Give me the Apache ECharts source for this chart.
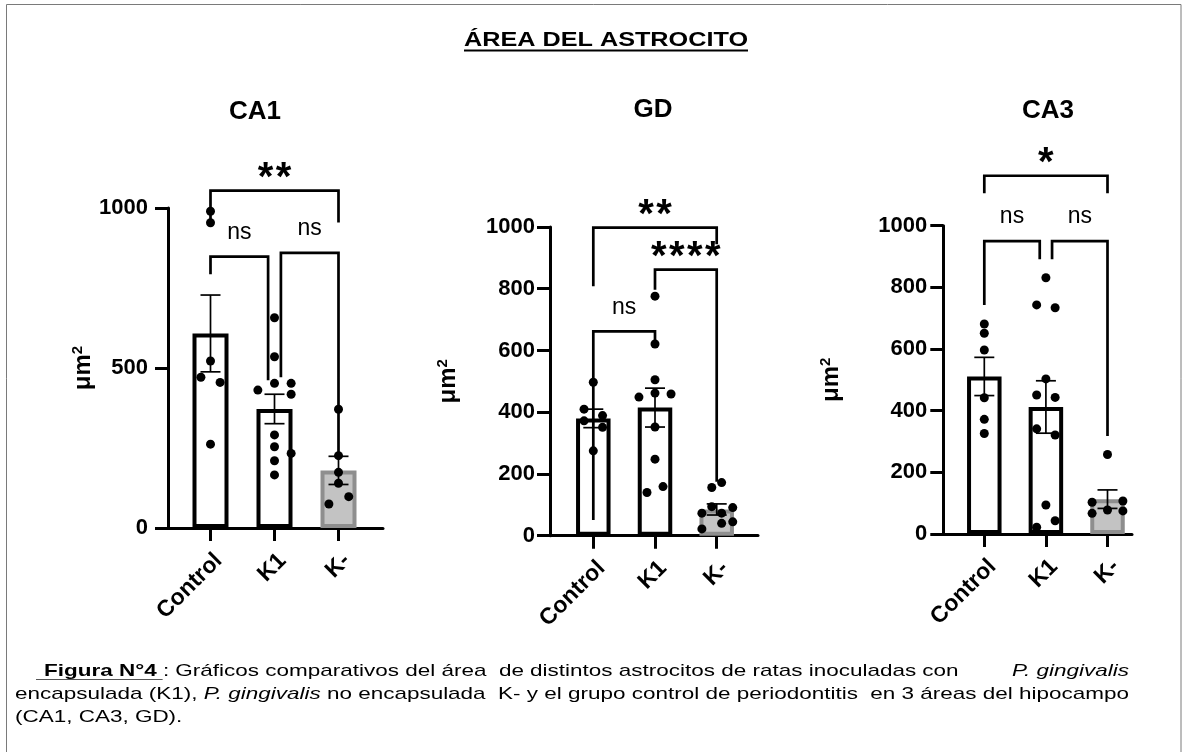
<!DOCTYPE html>
<html>
<head>
<meta charset="utf-8">
<script src="https://cdn.jsdelivr.net/npm/echarts@6/dist/echarts.min.js"></script>
<style>
html,body{margin:0;padding:0;background:#fff;}
#chart{width:1188px;height:752px;}
</style>
</head>
<body>
<div id="chart"></div>
<script>
// ---------------- DATA ----------------
const categories = ['Control', 'K1', 'K-'];
const yAxisTitle = 'μm²';
const mainTitle = 'ÁREA DEL ASTROCITO';
const panelTitles = ['CA1', 'GD', 'CA3'];

// CA1
const ca1Means = [608, 372, 180];
const ca1Sem = [120, 46, 44];
const ca1Control = [990, 954, 522, 471, 455, 262];
const ca1K1 = [657, 535, 431, 452, 452, 418, 291, 254, 233, 210, 166];
const ca1Kminus = [371, 226, 174, 140, 98, 75];
const ca1Ticks = [0, 500, 1000];
const ca1Brackets = [
  {from: 0, to: 2, top: 1054, leg1: 955, leg2: 955, text: '**'},
  {from: 0, to: 0.9, top: 848, leg1: 793, leg2: 462, text: 'ns'},
  {from: 1.1, to: 2, top: 860, leg1: 471, leg2: 226, text: 'ns'}
];

// GD
const gdMeans = [380, 415, 85];
const gdSem = [30, 63, 18];
const gdControl = [497, 410, 389, 372, 351, 275];
const gdK1 = [776, 621, 505, 462, 459, 449, 352, 248, 159, 140];
const gdKminus = [172, 156, 94, 91, 73, 73, 45, 40, 22];
const gdTicks = [0, 200, 400, 600, 800, 1000];
const gdBrackets = [
  {from: 0, to: 2, top: 998, leg1: 808, leg2: 944, text: '**'},
  {from: 1, to: 2, top: 862, leg1: 797, leg2: 175, text: '****'},
  {from: 0, to: 1, top: 662, leg1: 51, leg2: 625, text: 'ns'}
];

// CA3
const ca3Means = [511, 412, 113];
const ca3Sem = [62, 85, 30];
const ca3Control = [681, 651, 597, 442, 372, 326];
const ca3K1 = [831, 743, 734, 503, 451, 443, 341, 321, 94, 43, 22];
const ca3Kminus = [258, 103, 107, 67, 78, 75];
const ca3Ticks = [0, 200, 400, 600, 800, 1000];
const ca3Brackets = [
  {from: 0, to: 2, top: 1162, leg1: 1105, leg2: 1105, text: '*'},
  {from: 0, to: 0.9, top: 950, leg1: 743, leg2: 891, text: 'ns'},
  {from: 1.1, to: 2, top: 950, leg1: 891, leg2: 318, text: 'ns'}
];

// Caption text
const captionBold = 'Figura N°4';
const captionLine1 = ' : Gráficos comparativos del área  de distintos astrocitos de ratas inoculadas con';
const captionItalic = 'P. gingivalis';
const captionLine2a = 'encapsulada (K1), ';
const captionLine2b = ' no encapsulada  K- y el grupo control de periodontitis  en 3 áreas del hipocampo';
const captionLine3 = '(CA1, CA3, GD).';

// ---------------- LAYOUT / STYLE ----------------
const FONT = '"Liberation Sans", Arial, Helvetica, sans-serif';
// horizontal jitter of the dots (in category-band units)
const ca1Jitter = [[0, 0, 0, -0.15, 0.15, 0], [0, 0, -0.26, 0, 0.26, 0.26, 0, 0, 0.26, 0, 0], [0, 0, 0, 0, 0.16, -0.15]];
const gdJitter = [[0, -0.15, 0.15, -0.15, 0.15, 0], [0, 0, 0, 0, 0.26, -0.26, 0, 0, 0.13, -0.13], [0.08, -0.08, -0.08, 0.26, -0.24, 0.08, 0.26, 0.08, -0.24]];
const ca3Jitter = [[0, 0, 0, 0, 0, 0], [0, -0.15, 0.15, 0, -0.15, 0.15, -0.15, 0.15, 0, 0.15, -0.15], [0, -0.25, 0.25, -0.25, 0, 0.25]];

const panels = [
  {means: ca1Means, sem: ca1Sem, points: [ca1Control, ca1K1, ca1Kminus], jitter: ca1Jitter, ticks: ca1Ticks, brackets: ca1Brackets,
   L: {axisX: 168, axisRight: 383, yTop: 208, y0: 528, c0: 210.5, step: 64, barW: 36, yLabelMargin: 20, nameGap: 70, titleX: 255, titleY: 112}},
  {means: gdMeans, sem: gdSem, points: [gdControl, gdK1, gdKminus], jitter: gdJitter, ticks: gdTicks, brackets: gdBrackets,
   L: {axisX: 550, axisRight: 758, yTop: 227, y0: 535.7, c0: 593.3, step: 61.7, barW: 34.5, yLabelMargin: 15, nameGap: 89, titleX: 653, titleY: 110}},
  {means: ca3Means, sem: ca3Sem, points: [ca3Control, ca3K1, ca3Kminus], jitter: ca3Jitter, ticks: ca3Ticks, brackets: ca3Brackets,
   L: {axisX: 943.3, axisRight: 1132, yTop: 225.7, y0: 534, c0: 984.3, step: 61.6, barW: 34.5, yLabelMargin: 16, nameGap: 99, titleX: 1048, titleY: 111}}
];

const STAR_SIZE = 40, STAR_GAP = 18, STAR_RISE = 21, NS_RISE = 24;
const GRAY_FILL = '#c3c3c3', GRAY_BORDER = '#8e8e8e';
const BAR_BORDER = 4;

function txtStyle(o) {
  return Object.assign({legacy: false, fill: '#000', fontFamily: FONT, align: 'center', verticalAlign: 'middle'}, o);
}

function bracketRenderer(list) {
  return function (params, api) {
    const b = list[params.dataIndex];
    const pA = api.coord([b.from, b.leg1]);
    const pB = api.coord([b.from, b.top]);
    const pC = api.coord([b.to, b.top]);
    const pD = api.coord([b.to, b.leg2]);
    const children = [{
      type: 'polyline', shape: {points: [pA, pB, pC, pD]},
      style: {stroke: '#000', lineWidth: 2.7, fill: null, lineJoin: 'miter'}
    }];
    const mx = (pB[0] + pC[0]) / 2;
    if (b.text.charAt(0) === '*') {
      const n = b.text.length;
      for (let j = 0; j < n; j++) {
        children.push({type: 'text', x: mx + (j - (n - 1) / 2) * STAR_GAP, y: pB[1] - STAR_RISE + 0.225 * STAR_SIZE,
          style: txtStyle({text: '*', fontSize: STAR_SIZE, fontWeight: 'bold'})});
      }
    } else {
      children.push({type: 'text', x: mx, y: pB[1] - NS_RISE, style: txtStyle({text: b.text, fontSize: 23})});
    }
    return {type: 'group', children: children};
  };
}

function errorRenderer(params, api) {
  const i = api.value(0), m = api.value(1), s = api.value(2);
  const t = api.coord([i, m + s]);
  const bt = api.coord([i, m - s]);
  const hw = 10;
  const st = {stroke: '#000', lineWidth: 1.7};
  return {type: 'group', children: [
    {type: 'line', shape: {x1: t[0], y1: t[1], x2: bt[0], y2: bt[1]}, style: st},
    {type: 'line', shape: {x1: t[0] - hw, y1: t[1], x2: t[0] + hw, y2: t[1]}, style: st},
    {type: 'line', shape: {x1: bt[0] - hw, y1: bt[1], x2: bt[0] + hw, y2: bt[1]}, style: st}
  ]};
}

const yTitleRich = yAxisTitle.replace('²', '{s|2}').replace(/^([^{]+)/, '{a|$1}');

const option = {
  animation: false,
  backgroundColor: '#fff',
  textStyle: {fontFamily: FONT},
  grid: [], xAxis: [], yAxis: [], series: [], graphic: []
};

panels.forEach(function (p, k) {
  const L = p.L;
  const yMax = p.ticks[p.ticks.length - 1];
  const gF = option.grid.length;
  option.grid.push({left: L.axisX, top: L.yTop, width: L.axisRight - L.axisX, height: L.y0 - L.yTop});
  const gD = option.grid.length;
  option.grid.push({left: L.c0 - L.step / 2, top: L.yTop, width: L.step * 3, height: L.y0 - L.yTop});

  option.xAxis.push({gridIndex: gF, type: 'value', min: 0, max: 1,
    axisLine: {show: true, lineStyle: {color: '#000', width: 3}}, axisTick: {show: false}, axisLabel: {show: false}, splitLine: {show: false}});
  const xC = option.xAxis.length;
  option.xAxis.push({gridIndex: gD, type: 'category', data: categories,
    axisLine: {show: false},
    axisTick: {show: true, alignWithLabel: true, length: 13, lineStyle: {color: '#000', width: 3}},
    axisLabel: {interval: 0, rotate: 45, margin: 21, verticalAlign: 'top', color: '#000', fontSize: 23, fontWeight: 'bold', fontFamily: FONT},
    splitLine: {show: false}});
  const xV = option.xAxis.length;
  option.xAxis.push({gridIndex: gD, type: 'value', min: -0.5, max: 2.5, show: false});

  option.yAxis.push({gridIndex: gF, type: 'value', min: 0, max: yMax, interval: p.ticks[1] - p.ticks[0],
    name: yTitleRich, nameLocation: 'middle', nameRotate: 90, nameGap: L.nameGap,
    nameTextStyle: {color: '#000', fontFamily: FONT, rich: {
      a: {fontSize: 24, fontWeight: 'bold', fontFamily: FONT, color: '#000', lineHeight: 26},
      s: {fontSize: 15, fontWeight: 'bold', fontFamily: FONT, color: '#000', verticalAlign: 'top', lineHeight: 16}
    }},
    axisLine: {show: true, lineStyle: {color: '#000', width: 3}},
    axisTick: {show: true, length: 13, lineStyle: {color: '#000', width: 3}},
    axisLabel: {margin: L.yLabelMargin, color: '#000', fontSize: 22, fontWeight: 'bold', fontFamily: FONT,
      formatter: function (v) { return String(v); }},
    splitLine: {show: false}});
  const yD = option.yAxis.length;
  option.yAxis.push({gridIndex: gD, type: 'value', min: 0, max: yMax, show: false});

  option.series.push({
    type: 'bar', xAxisIndex: xC, yAxisIndex: yD, barWidth: L.barW, z: 2,
    data: p.means.map(function (m, i) {
      return {value: m, itemStyle: {color: i === 2 ? GRAY_FILL : '#fff', borderColor: i === 2 ? GRAY_BORDER : '#000', borderWidth: BAR_BORDER}};
    })
  });
  option.series.push({
    type: 'custom', xAxisIndex: xC, yAxisIndex: yD, z: 3,
    data: p.means.map(function (m, i) { return [i, m, p.sem[i]]; }),
    renderItem: errorRenderer
  });
  option.series.push({
    type: 'custom', xAxisIndex: xV, yAxisIndex: yD, z: 4, clip: false,
    data: p.brackets.map(function (b) { return [b.from, b.to, b.top, b.leg1, b.leg2]; }),
    renderItem: bracketRenderer(p.brackets)
  });
  const pts = [];
  p.points.forEach(function (arr, i) {
    arr.forEach(function (v, j) { pts.push([i + p.jitter[i][j], v]); });
  });
  option.series.push({
    type: 'scatter', xAxisIndex: xV, yAxisIndex: yD, z: 5, symbolSize: 9,
    itemStyle: {color: '#000', opacity: 1}, data: pts
  });

  option.graphic.push({type: 'text', x: L.titleX, y: L.titleY,
    style: txtStyle({text: panelTitles[k], fontSize: 26, fontWeight: 'bold'})});
});

// text measurement for stretched caption/title
const mctx = document.createElement('canvas').getContext('2d');
function measure(parts) {
  let w = 0;
  parts.forEach(function (pt) { mctx.font = pt[1]; w += mctx.measureText(pt[0]).width; });
  return w;
}
const CAP = 17;
const fN = CAP + 'px "Liberation Sans"', fI = 'italic ' + CAP + 'px "Liberation Sans"', fB = 'bold ' + CAP + 'px "Liberation Sans"';
const capScale = 1114 / measure([[captionLine2a, fN], [captionItalic, fI], [captionLine2b, fN]]);
const titleScale = 284 / measure([[mainTitle, 'bold 21px "Liberation Sans"']]);
const boldW = measure([[captionBold, fB]]) * capScale;

const rich = {
  b: {fontWeight: 'bold', fontSize: CAP, fontFamily: FONT, fill: '#000'},
  i: {fontStyle: 'italic', fontSize: CAP, fontFamily: FONT, fill: '#000'}
};

option.graphic.push(
  {type: 'rect', shape: {x: 6.5, y: 4.5, width: 1174.5, height: 800}, style: {fill: null, stroke: '#7a7a7a', lineWidth: 1}},
  {type: 'text', x: 606, y: 40, scaleX: titleScale,
   style: txtStyle({text: mainTitle, fontSize: 21, fontWeight: 'bold'})},
  {type: 'line', shape: {x1: 464, y1: 50.5, x2: 748, y2: 50.5}, style: {stroke: '#000', lineWidth: 2}},
  {type: 'text', x: 44, y: 671, scaleX: capScale,
   style: txtStyle({text: '{b|' + captionBold + '}' + captionLine1, fontSize: CAP, align: 'left', rich: rich})},
  {type: 'line', shape: {x1: 36, y1: 679.5, x2: 44 + boldW + 6, y2: 679.5}, style: {stroke: '#555', lineWidth: 1}},
  {type: 'text', x: 1129, y: 671, scaleX: capScale,
   style: txtStyle({text: '{i|' + captionItalic + '}', fontSize: CAP, align: 'right', rich: rich})},
  {type: 'text', x: 15, y: 694, scaleX: capScale,
   style: txtStyle({text: captionLine2a + '{i|' + captionItalic + '}' + captionLine2b, fontSize: CAP, align: 'left', rich: rich})},
  {type: 'text', x: 15, y: 717, scaleX: capScale,
   style: txtStyle({text: captionLine3, fontSize: CAP, align: 'left'})}
);

const chart = echarts.init(document.getElementById('chart'), null, {renderer: 'canvas'});
chart.setOption(option);
</script>
</body>
</html>
